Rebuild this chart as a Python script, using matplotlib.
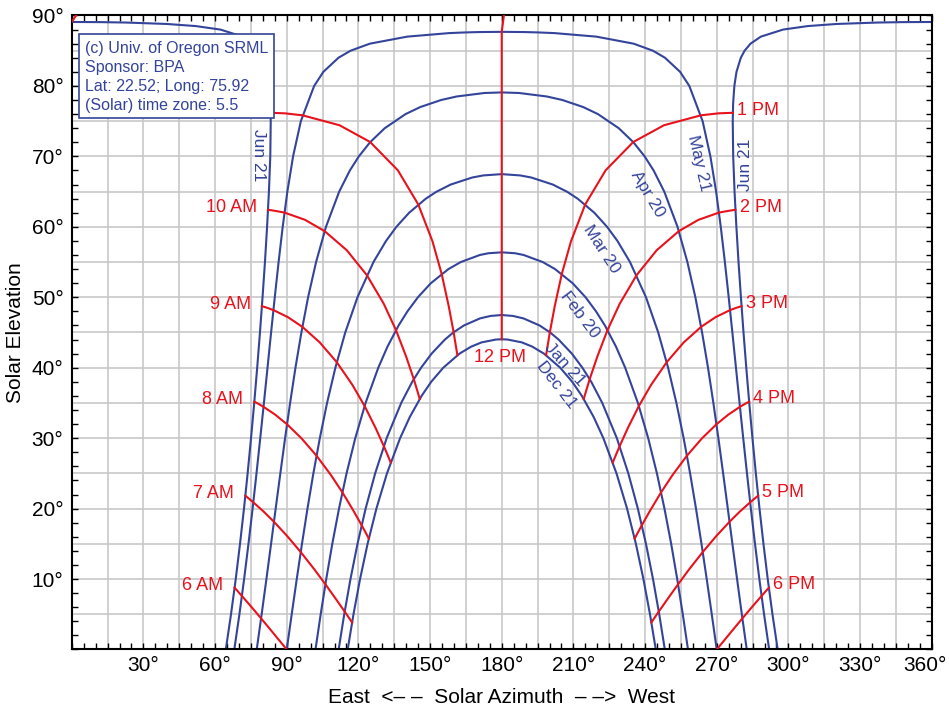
import matplotlib
matplotlib.use("Agg")
import matplotlib.pyplot as plt
from matplotlib.patches import Rectangle
from matplotlib.transforms import ScaledTranslation

plt.rcParams["font.family"] = ["Liberation Sans", "DejaVu Sans"]

BLUE = "#34449a"
RED = "#e8121c"
GRID = "#c8c8c8"

# ── sun paths, (azimuth, elevation) ─────────────────────────────────────────
JUN21_AM_AZ = [64.49, 66.67, 68.65, 70.44, 72.10, 73.63, 75.05, 76.39, 77.63, 78.79,
               79.87, 80.88, 81.77, 82.54, 83.11, 83.30, 83.14, 82.62, 81.73, 79.92,
               78.33, 75.87, 71.53, 62.27, 51.9, 39.7, 22.8, 12.0, 0.0]
JUN21_AM_EL = [0, 5, 10, 15, 20, 25, 30, 35, 40, 45,
               50, 55, 60, 65, 70, 75, 77.5, 80, 82, 84,
               85, 86, 87, 88, 88.5, 88.8, 89.0, 89.06, 89.08]
JUN21_PM_AZ = [360.0, 348.0, 337.2, 320.3, 308.1, 297.73, 288.47, 284.13, 281.67, 280.08,
               278.27, 277.38, 276.86, 276.70, 276.89, 277.46, 278.23, 279.12, 280.13, 281.21,
               282.37, 283.61, 284.95, 286.37, 287.90, 289.56, 291.35, 293.33, 295.51]
JUN21_PM_EL = [89.08, 89.06, 89.0, 88.8, 88.5, 88, 87, 86, 85, 84,
               82, 80, 77.5, 75, 70, 65, 60, 55, 50, 45,
               40, 35, 30, 25, 20, 15, 10, 5, 0]

MAY21_AZ = [68.05, 70.19, 72.16, 73.98, 75.71, 77.34, 78.91, 80.45, 81.95, 83.45,
            84.99, 86.59, 88.31, 90.26, 92.65, 95.91, 101.47, 105.33, 111.65, 116.69,
            124.79, 140.4, 157.9, 164.9, 170.7, 180.0, 189.3, 195.1, 202.1, 219.6,
            235.21, 243.31, 248.35, 254.67, 258.53, 264.09, 267.35, 269.74, 271.69, 273.41,
            275.01, 276.55, 278.05, 279.55, 281.09, 282.66, 284.29, 286.02, 287.84, 289.81,
            291.95]
MAY21_EL = [0, 5, 10, 15, 20, 25, 30, 35, 40, 45,
            50, 55, 60, 65, 70, 75, 80, 82, 84, 85,
            86, 87, 87.5, 87.6, 87.65, 87.68, 87.65, 87.6, 87.5, 87,
            86, 85, 84, 82, 80, 75, 70, 65, 60, 55,
            50, 45, 40, 35, 30, 25, 20, 15, 10, 5,
            0]

APR20_AZ = [77.43, 79.50, 81.49, 83.44, 85.37, 87.32, 89.31, 91.41, 93.65, 96.13,
            98.94, 102.28, 106.42, 111.96, 116.42, 120.18, 124.87, 131.02, 139.72, 145.87,
            154.58, 161.06, 172.75, 180.0, 187.25, 198.94, 205.42, 214.13, 220.28, 228.98,
            235.13, 239.82, 243.58, 248.04, 253.58, 257.72, 261.06, 263.87, 266.35, 268.59,
            270.69, 272.68, 274.63, 276.56, 278.51, 280.50, 282.57]
APR20_EL = [0, 5, 10, 15, 20, 25, 30, 35, 40, 45,
            50, 55, 60, 65, 68, 70, 72, 74, 76, 77,
            78, 78.5, 79, 79.08, 79, 78.5, 78, 77, 76, 74,
            72, 70, 68, 65, 60, 55, 50, 45, 40, 35,
            30, 25, 20, 15, 10, 5, 0]

MAR20_AZ = [90.0, 92.08, 94.19, 96.38, 98.68, 101.15, 103.85, 106.88, 110.36, 114.49,
            119.61, 126.31, 131.57, 135.90, 141.24, 148.23, 152.76, 158.61, 167.61, 172.35,
            180.0, 187.65, 192.39, 201.39, 207.24, 211.77, 218.76, 224.10, 228.43, 233.69,
            240.39, 245.51, 249.64, 253.12, 256.15, 258.85, 261.32, 263.62, 265.81, 267.92,
            270.0]
MAR20_EL = [0, 5, 10, 15, 20, 25, 30, 35, 40, 45,
            50, 55, 58, 60, 62, 64, 65, 66, 67, 67.3,
            67.48, 67.3, 67, 66, 65, 64, 62, 60, 58, 55,
            50, 45, 40, 35, 30, 25, 20, 15, 10, 5,
            0]

FEB20_AZ = [102.03, 104.21, 106.54, 109.07, 111.88, 115.04, 118.69, 123.00, 128.32, 132.18,
            136.82, 140.53, 144.91, 150.33, 157.67, 162.85, 170.8, 174.4, 180.0, 185.6,
            189.2, 197.15, 202.33, 209.67, 215.09, 219.47, 223.18, 227.82, 231.68, 237.0,
            241.31, 244.96, 248.12, 250.93, 253.46, 255.79, 257.97]
FEB20_EL = [0, 5, 10, 15, 20, 25, 30, 35, 40, 43,
            46, 48, 50, 52, 54, 55, 56, 56.25, 56.38, 56.25,
            56, 55, 54, 52, 50, 48, 46, 43, 40, 35,
            30, 25, 20, 15, 10, 5, 0]

JAN21_AZ = [111.73, 114.07, 116.68, 119.62, 123.02, 127.01, 131.82, 137.92, 142.53, 146.24,
            150.64, 156.21, 159.72, 164.17, 170.9, 175.3, 180.0, 184.7, 189.1, 195.83,
            200.28, 203.79, 209.36, 213.76, 217.47, 222.08, 228.18, 232.99, 236.98, 240.38,
            243.32, 245.93, 248.27]
JAN21_EL = [0, 5, 10, 15, 20, 25, 30, 35, 38, 40,
            42, 44, 45, 46, 47, 47.35, 47.48, 47.35, 47, 46,
            45, 44, 42, 40, 38, 35, 30, 25, 20, 15,
            10, 5, 0]

DEC21_AZ = [115.51, 117.94, 120.69, 123.84, 127.53, 131.96, 137.45, 141.51, 146.45, 150.48,
            155.52, 162.32, 167.25, 171.6, 177.57, 180.0, 182.43, 188.4, 192.75, 197.68,
            204.48, 209.52, 213.55, 218.49, 222.55, 228.04, 232.47, 236.16, 239.31, 242.06,
            244.49]
DEC21_EL = [0, 5, 10, 15, 20, 25, 30, 33, 36, 38,
            40, 42, 43, 43.6, 44, 44.04, 44, 43.6, 43, 42,
            40, 38, 36, 33, 30, 25, 20, 15, 10, 5,
            0]

DATE_CURVES = [
    (JUN21_AM_AZ, JUN21_AM_EL), (JUN21_PM_AZ, JUN21_PM_EL),
    (MAY21_AZ, MAY21_EL), (APR20_AZ, APR20_EL), (MAR20_AZ, MAR20_EL),
    (FEB20_AZ, FEB20_EL), (JAN21_AZ, JAN21_EL), (DEC21_AZ, DEC21_EL),
]

# date labels: text, azimuth, elevation, rotation
DATE_LABELS = [
    ("Jun 21", 78.2, 70.2, -90),
    ("Jun 21", 282.0, 68.8, 90),
    ("May 21", 262.3, 69.0, -77),
    ("Apr 20", 241.0, 64.6, -59),
    ("Mar 20", 221.9, 56.8, -57),
    ("Feb 20", 212.8, 47.5, -53),
    ("Jan 21", 206.5, 40.4, -48),
    ("Dec 21", 203.0, 37.5, -52),
]

# ── hour lines, Jun 21 -> Dec 21 ────────────────────────────────────────────
H06_EL = [8.77, 8.25, 7.60, 6.06, 4.42, 2.29, 0.0]
H07_EL = [21.83, 21.42, 20.89, 19.60, 18.13, 16.13, 13.83, 11.41, 9.26, 7.13, 5.38, 4.49, 3.84]
H08_EL = [35.18, 34.87, 34.45, 33.34, 31.97, 29.96, 27.51, 24.80, 22.31, 19.78, 17.64, 16.55, 15.75]
H09_EL = [48.74, 48.51, 48.18, 47.18, 45.80, 43.60, 40.78, 37.56, 34.56, 31.49, 28.87, 27.53, 26.55]
H10_EL = [62.42, 62.26, 62.02, 61.00, 59.39, 56.68, 53.13, 49.08, 45.34, 41.56, 38.38, 36.74, 35.56]
H11_EL = [76.19, 76.11, 75.83, 74.42, 72.04, 68.03, 63.17, 57.93, 53.32, 48.77, 45.03, 43.14, 41.78]

AM06_AZ = [68.18, 69.54, 71.23, 75.17, 79.26, 84.46, 90.0]
AM07_AZ = [72.67, 74.16, 76.01, 80.27, 84.65, 90.12, 95.86, 101.48, 106.18, 110.65, 114.26, 116.06, 117.35]
AM08_AZ = [76.43, 78.15, 80.28, 85.16, 90.12, 96.22, 102.47, 108.43, 113.29, 117.78, 121.35, 123.11, 124.35]
AM09_AZ = [79.61, 81.76, 84.42, 90.48, 96.55, 103.80, 110.95, 117.49, 122.60, 127.14, 130.64, 132.32, 133.51]
AM10_AZ = [82.17, 85.25, 89.06, 97.62, 105.86, 115.13, 123.56, 130.61, 135.73, 140.01, 143.18, 144.65, 145.67]
AM11_AZ = [83.25, 89.28, 96.63, 112.10, 124.93, 136.50, 145.07, 151.02, 154.85, 157.79, 159.87, 160.77, 161.44]

PM01_AZ = [276.75, 270.72, 263.37, 247.90, 235.07, 223.50, 214.93, 208.98, 205.15, 202.21, 200.13, 199.23, 198.56]
PM02_AZ = [277.83, 274.75, 270.94, 262.38, 254.14, 244.87, 236.44, 229.39, 224.27, 219.99, 216.82, 215.35, 214.33]
PM03_AZ = [280.39, 278.24, 275.58, 269.52, 263.45, 256.20, 249.05, 242.51, 237.40, 232.86, 229.36, 227.68, 226.49]
PM04_AZ = [283.57, 281.85, 279.72, 274.84, 269.88, 263.78, 257.53, 251.57, 246.71, 242.22, 238.65, 236.89, 235.65]
PM05_AZ = [287.33, 285.84, 283.99, 279.73, 275.35, 269.88, 264.14, 258.52, 253.82, 249.35, 245.74, 243.94, 242.65]
PM06_AZ = [291.82, 290.46, 288.77, 284.83, 280.74, 275.54, 270.0]

NOON_AZ = [180.0, 180.0, 180.0, 180.0, 180.0, 180.0, 180.9]
NOON_EL = [44.04, 47.48, 56.38, 67.48, 79.08, 87.68, 90.0]
NOON_WRAP_AZ = [0.0, 1.8]
NOON_WRAP_EL = [89.08, 90.0]

# label text, azimuth list, elevation list, side (AM labels sit left)
HOUR_LINES = [
    ("6 AM", AM06_AZ, H06_EL, "am"), ("7 AM", AM07_AZ, H07_EL, "am"),
    ("8 AM", AM08_AZ, H08_EL, "am"), ("9 AM", AM09_AZ, H09_EL, "am"),
    ("10 AM", AM10_AZ, H10_EL, "am"), (None, AM11_AZ, H11_EL, "am"),
    ("1 PM", PM01_AZ, H11_EL, "pm"), ("2 PM", PM02_AZ, H10_EL, "pm"),
    ("3 PM", PM03_AZ, H09_EL, "pm"), ("4 PM", PM04_AZ, H08_EL, "pm"),
    ("5 PM", PM05_AZ, H07_EL, "pm"), ("6 PM", PM06_AZ, H06_EL, "pm"),
]

X_TICKS = list(range(30, 361, 30))
Y_TICKS = list(range(10, 91, 10))

INFO_LINES = ["(c) Univ. of Oregon SRML", "Sponsor: BPA",
              "Lat: 22.52; Long: 75.92", "(Solar) time zone: 5.5"]

# ── figure ───────────────────────────────────────────────────────────────────
fig = plt.figure(figsize=(9.49, 7.11), dpi=100)
ax = fig.add_axes([0.0756, 0.0865, 0.9062, 0.8917])
ax.set_xlim(0, 360)
ax.set_ylim(0, 90)

for v in range(15, 360, 15):
    ax.axvline(v, color=GRID, lw=1.2, zorder=0)
for h in range(5, 90, 5):
    ax.axhline(h, color=GRID, lw=1.2, zorder=0)

for az, el in DATE_CURVES:
    ax.plot(az, el, color=BLUE, lw=1.5, zorder=2)

for text, az, el, side in HOUR_LINES:
    ax.plot(az, el, color=RED, lw=1.5, zorder=3)
    if text is None:
        continue
    if side == "am":
        ax.annotate(text, (az[0], el[0]), xytext=(-8, 1.5), textcoords="offset points",
                    ha="right", va="center", color=RED, fontsize=13)
    else:
        ax.annotate(text, (az[0], el[0]), xytext=(3, 2), textcoords="offset points",
                    ha="left", va="center", color=RED, fontsize=13)

ax.plot(NOON_AZ, NOON_EL, color=RED, lw=1.5, zorder=3)
ax.plot(NOON_WRAP_AZ, NOON_WRAP_EL, color=RED, lw=1.5, zorder=3)
ax.annotate("12 PM", (NOON_AZ[0], NOON_EL[0]), xytext=(-1, -13), textcoords="offset points",
            ha="center", va="center", color=RED, fontsize=13)

for text, az, el, rot in DATE_LABELS:
    ax.text(az, el, text, rotation=rot, rotation_mode="anchor", ha="center", va="center",
            color=BLUE, fontsize=12.5, zorder=4)

# info box
ax.add_patch(Rectangle((0.0085, 0.8379), 0.2267, 0.1324, transform=ax.transAxes,
                       facecolor="white", edgecolor=BLUE, lw=1.2, zorder=6))
for i, line in enumerate(INFO_LINES):
    ax.text(0.0155, 0.9483 - i * 0.0303, line, transform=ax.transAxes, ha="left",
            va="center", color=BLUE, fontsize=11.5, zorder=7)

# axes, ticks
ax.set_xticks(X_TICKS)
ax.set_xticklabels([f"{v}°" for v in X_TICKS])
ax.set_xticks(range(0, 361, 5), minor=True)
ax.set_yticks(Y_TICKS)
ax.set_yticklabels([f"{v}°" for v in Y_TICKS])
ax.set_yticks(range(0, 91, 2), minor=True)
ax.tick_params(which="both", direction="in", top=True, right=True, length=4, width=1,
               labelsize=15)
ax.tick_params(axis="x", pad=5)
ax.tick_params(axis="y", pad=6)
for s in ax.spines.values():
    s.set_linewidth(1.5)

# the 360° label sits a little left so it stays inside the figure
last = ax.get_xticklabels()[-1]
last.set_transform(last.get_transform() + ScaledTranslation(-0.07, 0, fig.dpi_scale_trans))

ax.set_xlabel("East  <\u2013 \u2013  Solar Azimuth  \u2013 \u2013>  West", fontsize=15, labelpad=9)
ax.set_ylabel("Solar Elevation", fontsize=15, labelpad=5)

fig.savefig("out.png", dpi=100)
